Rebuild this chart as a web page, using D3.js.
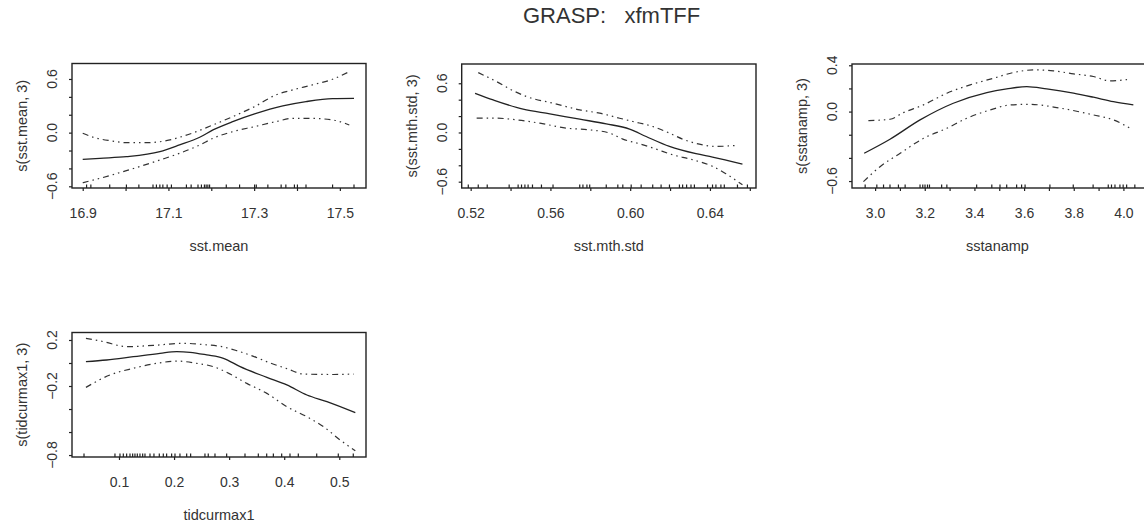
<!DOCTYPE html>
<html>
<head>
<meta charset="utf-8">
<script src="https://cdn.jsdelivr.net/npm/d3@7"></script>
<style>
  html, body { margin: 0; padding: 0; background: #ffffff; }
  svg { display: block; }
  text { font-family: "Liberation Sans", Arial, sans-serif; fill: #333; }
</style>
</head>
<body>
<svg id="chart" width="1144" height="529"></svg>
<script>
// ---------------- DATA ----------------
const mainTitle = "GRASP:   xfmTFF";

// Panel 1: sst.mean
const sstMeanXTitle = "sst.mean";
const sstMeanYTitle = "s(sst.mean, 3)";
const sstMeanXDomain = [16.875, 17.561];
const sstMeanYDomain = [-0.619, 0.773];
const sstMeanXTicks = [16.9, 17.0, 17.1, 17.2, 17.3, 17.4, 17.5];
const sstMeanXLabels = [16.9, 17.1, 17.3, 17.5];
const sstMeanYTicks = [-0.6, -0.4, -0.2, 0.0, 0.2, 0.4, 0.6];
const sstMeanYLabels = [-0.6, 0.0, 0.6];
const sstMeanFit = [[16.900,-0.299],[16.940,-0.287],[17.002,-0.269],[17.080,-0.213],[17.126,-0.138],[17.173,-0.052],[17.204,0.030],[17.250,0.123],[17.301,0.209],[17.367,0.299],[17.421,0.347],[17.483,0.381],[17.533,0.384]];
const sstMeanUpper = [[16.900,-0.007],[16.925,-0.052],[16.964,-0.090],[17.002,-0.112],[17.049,-0.112],[17.095,-0.090],[17.126,-0.052],[17.165,0.011],[17.204,0.086],[17.250,0.179],[17.301,0.291],[17.351,0.422],[17.390,0.478],[17.436,0.534],[17.483,0.597],[17.518,0.672]];
const sstMeanLower = [[16.900,-0.560],[16.940,-0.511],[17.002,-0.425],[17.080,-0.306],[17.126,-0.231],[17.173,-0.138],[17.204,-0.063],[17.250,0.011],[17.301,0.067],[17.351,0.123],[17.390,0.160],[17.429,0.160],[17.483,0.142],[17.522,0.086]];
const sstMeanRug = [16.909,16.919,16.963,17.002,17.031,17.064,17.072,17.080,17.087,17.097,17.107,17.142,17.153,17.169,17.177,17.184,17.188,17.192,17.196,17.235,17.266,17.301,17.305,17.332,17.363,17.374,17.394,17.401,17.421,17.483,17.533];

// Panel 2: sst.mth.std
const sstStdXTitle = "sst.mth.std";
const sstStdYTitle = "s(sst.mth.std, 3)";
const sstStdXDomain = [0.5155, 0.6631];
const sstStdYDomain = [-0.677, 0.835];
const sstStdXTicks = [0.52, 0.54, 0.56, 0.58, 0.60, 0.62, 0.64, 0.66];
const sstStdXLabels = [0.52, 0.56, 0.60, 0.64];
const sstStdYTicks = [-0.6, -0.4, -0.2, 0.0, 0.2, 0.4, 0.6];
const sstStdYLabels = [-0.6, 0.0, 0.6];
const sstStdFit = [[0.5222,0.478],[0.5313,0.397],[0.5463,0.284],[0.5597,0.227],[0.5747,0.162],[0.5880,0.105],[0.5997,0.041],[0.6080,-0.049],[0.6197,-0.170],[0.6330,-0.259],[0.6413,-0.300],[0.6563,-0.385]];
const sstStdUpper = [[0.5238,0.730],[0.5330,0.620],[0.5405,0.519],[0.5480,0.438],[0.5613,0.357],[0.5747,0.276],[0.5847,0.235],[0.5947,0.174],[0.6013,0.134],[0.6113,0.073],[0.6197,-0.008],[0.6263,-0.081],[0.6347,-0.142],[0.6430,-0.170],[0.6530,-0.158]];
const sstStdLower = [[0.5230,0.174],[0.5330,0.174],[0.5430,0.154],[0.5547,0.113],[0.5680,0.053],[0.5797,0.032],[0.5897,-0.008],[0.5963,-0.081],[0.6047,-0.138],[0.6130,-0.203],[0.6213,-0.272],[0.6313,-0.332],[0.6413,-0.413],[0.6480,-0.502],[0.6538,-0.596],[0.6563,-0.636]];
const sstStdRug = [0.5188,0.5238,0.5283,0.5393,0.5438,0.5455,0.5472,0.5488,0.5510,0.5555,0.5613,0.5747,0.5763,0.5783,0.5797,0.5880,0.5938,0.5963,0.6005,0.6055,0.6113,0.6155,0.6197,0.6247,0.6263,0.6283,0.6305,0.6322,0.6388,0.6413,0.6430,0.6455,0.6472,0.6538,0.6588];

// Panel 3: sstanamp
const sstAmpXTitle = "sstanamp";
const sstAmpYTitle = "s(sstanamp, 3)";
const sstAmpXDomain = [2.907, 4.095];
const sstAmpYDomain = [-0.660, 0.411];
const sstAmpXTicks = [3.0, 3.1, 3.2, 3.3, 3.4, 3.5, 3.6, 3.7, 3.8, 3.9, 4.0];
const sstAmpXLabels = [3.0, 3.2, 3.4, 3.6, 3.8, 4.0];
const sstAmpYTicks = [-0.6, -0.4, -0.2, 0.0, 0.2, 0.4];
const sstAmpYLabels = [-0.6, 0.0, 0.4];
const sstAmpFit = [[2.956,-0.360],[3.060,-0.239],[3.181,-0.072],[3.315,0.072],[3.450,0.164],[3.530,0.196],[3.611,0.216],[3.691,0.196],[3.799,0.159],[3.879,0.124],[3.960,0.086],[4.040,0.058]];
const sstAmpUpper = [[2.973,-0.078],[3.060,-0.066],[3.114,-0.009],[3.195,0.058],[3.289,0.159],[3.383,0.231],[3.477,0.288],[3.557,0.337],[3.638,0.360],[3.718,0.352],[3.799,0.326],[3.879,0.303],[3.946,0.265],[4.027,0.280]];
const sstAmpLower = [[2.953,-0.605],[3.020,-0.476],[3.101,-0.360],[3.195,-0.231],[3.289,-0.144],[3.369,-0.058],[3.463,0.014],[3.544,0.058],[3.617,0.063],[3.745,0.030],[3.879,-0.029],[3.960,-0.072],[4.034,-0.153]];
const sstAmpRug = [2.960,3.007,3.034,3.060,3.094,3.121,3.181,3.192,3.201,3.211,3.219,3.268,3.289,3.409,3.470,3.503,3.530,3.570,3.590,3.604,3.704,3.798,3.878,3.939,3.952,3.966,3.986,3.999,4.013,4.046];

// Panel 4: tidcurmax1
const tidXTitle = "tidcurmax1";
const tidYTitle = "s(tidcurmax1, 3)";
const tidXDomain = [0.0147, 0.5485];
const tidYDomain = [-0.817, 0.265];
const tidXTicks = [0.1, 0.2, 0.3, 0.4, 0.5];
const tidXLabels = [0.1, 0.2, 0.3, 0.4, 0.5];
const tidYTicks = [-0.8, -0.6, -0.4, -0.2, 0.0, 0.2];
const tidYLabels = [-0.8, -0.2, 0.2];
const tidFit = [[0.0400,0.012],[0.0776,0.026],[0.1261,0.055],[0.1745,0.084],[0.2048,0.099],[0.2291,0.093],[0.2594,0.070],[0.2897,0.041],[0.3200,-0.032],[0.3685,-0.125],[0.4048,-0.191],[0.4412,-0.278],[0.4776,-0.336],[0.5291,-0.432]];
const tidUpper = [[0.0400,0.214],[0.0715,0.186],[0.1139,0.142],[0.1624,0.153],[0.2170,0.171],[0.2533,0.160],[0.2867,0.142],[0.3139,0.107],[0.3442,0.058],[0.3745,0.000],[0.4048,-0.049],[0.4352,-0.096],[0.4897,-0.100],[0.5261,-0.096]];
const tidLower = [[0.0400,-0.212],[0.0836,-0.104],[0.1261,-0.046],[0.1685,-0.003],[0.2048,0.017],[0.2412,-0.003],[0.2715,-0.032],[0.3018,-0.096],[0.3321,-0.177],[0.3685,-0.264],[0.4048,-0.380],[0.4412,-0.467],[0.4715,-0.554],[0.5018,-0.670],[0.5291,-0.763]];
const tidRug = [0.0365,0.0927,0.1018,0.1079,0.1139,0.1200,0.1248,0.1290,0.1333,0.1381,0.1430,0.1472,0.1563,0.1635,0.1732,0.1805,0.1865,0.1956,0.2017,0.2107,0.2229,0.2301,0.2561,0.2621,0.2743,0.2955,0.3288,0.3530,0.3682,0.3803,0.3954,0.4105,0.4256,0.4590,0.4982,0.5254];

// ---------------- LAYOUT ----------------
const panels = [
  { box: [72, 63.5, 366, 188], xDomain: sstMeanXDomain, yDomain: sstMeanYDomain, xTicks: sstMeanXTicks, xLabels: sstMeanXLabels, yTicks: sstMeanYTicks, yLabels: sstMeanYLabels, fit: sstMeanFit, upper: sstMeanUpper, lower: sstMeanLower, rug: sstMeanRug, xTitle: sstMeanXTitle, yTitle: sstMeanYTitle, xfmt: d3.format(".1f") },
  { box: [461.7, 64, 756, 188], xDomain: sstStdXDomain, yDomain: sstStdYDomain, xTicks: sstStdXTicks, xLabels: sstStdXLabels, yTicks: sstStdYTicks, yLabels: sstStdYLabels, fit: sstStdFit, upper: sstStdUpper, lower: sstStdLower, rug: sstStdRug, xTitle: sstStdXTitle, yTitle: sstStdYTitle, xfmt: d3.format(".2f") },
  { box: [852, 64, 1147, 188], xDomain: sstAmpXDomain, yDomain: sstAmpYDomain, xTicks: sstAmpXTicks, xLabels: sstAmpXLabels, yTicks: sstAmpYTicks, yLabels: sstAmpYLabels, fit: sstAmpFit, upper: sstAmpUpper, lower: sstAmpLower, rug: sstAmpRug, xTitle: sstAmpXTitle, yTitle: sstAmpYTitle, xfmt: d3.format(".1f") },
  { box: [72, 332.5, 366, 457], xDomain: tidXDomain, yDomain: tidYDomain, xTicks: tidXTicks, xLabels: tidXLabels, yTicks: tidYTicks, yLabels: tidYLabels, fit: tidFit, upper: tidUpper, lower: tidLower, rug: tidRug, xTitle: tidXTitle, yTitle: tidYTitle, xfmt: d3.format(".1f") }
];

const svg = d3.select("#chart");
svg.append("rect").attr("width", 1144).attr("height", 529).attr("fill", "#ffffff");

svg.append("text")
  .attr("x", 523).attr("y", 23)
  .attr("font-size", "22px")
  .attr("fill", "#3a3a3a")
  .style("white-space", "pre")
  .attr("xml:space", "preserve")
  .text(mainTitle);

const yfmt = d => (d === 0 ? "0.0" : d3.format(".1f")(d));
const near = (arr, v) => arr.some(a => Math.abs(a - v) < 1e-9);

panels.forEach(p => {
  const [L, T, R, B] = p.box;
  const x = d3.scaleLinear().domain(p.xDomain).range([L, R]);
  const y = d3.scaleLinear().domain(p.yDomain).range([B, T]);
  const g = svg.append("g");

  // x axis ticks
  const xAxis = d3.axisBottom(x).tickValues(p.xTicks).tickSize(3).tickSizeOuter(0).tickPadding(17)
    .tickFormat(d => near(p.xLabels, d) ? p.xfmt(d) : "");
  const gx = g.append("g").attr("transform", `translate(0,${B})`).call(xAxis);
  gx.select(".domain").remove();
  gx.selectAll("line").attr("stroke", "#222").attr("stroke-width", 1.2);
  gx.selectAll("text").attr("font-size", "14px").attr("fill", "#3a3a3a")
    .style("font-family", "'Liberation Sans', Arial, sans-serif");

  // y axis ticks
  const yAxis = d3.axisLeft(y).tickValues(p.yTicks).tickSize(3).tickSizeOuter(0).tickFormat("");
  const gy = g.append("g").attr("transform", `translate(${L},0)`).call(yAxis);
  gy.select(".domain").remove();
  gy.selectAll("line").attr("stroke", "#222").attr("stroke-width", 1.2);

  // y tick labels (rotated, parallel to axis)
  g.selectAll(".ylab").data(p.yLabels).enter().append("text")
    .attr("transform", d => `translate(${L - 15},${y(d)}) rotate(-90)`)
    .attr("text-anchor", "middle")
    .attr("font-size", "14px").attr("fill", "#3a3a3a")
    .text(yfmt);

  // titles
  g.append("text")
    .attr("x", (L + R) / 2 + (R > 1144 ? -2 : 0)).attr("y", B + 63)
    .attr("text-anchor", "middle").attr("font-size", "14.5px").attr("fill", "#3a3a3a")
    .text(p.xTitle);
  g.append("text")
    .attr("transform", `translate(${L - 45},${(T + B) / 2}) rotate(-90)`)
    .attr("text-anchor", "middle").attr("font-size", "14.5px").attr("fill", "#3a3a3a")
    .text(p.yTitle);

  // rug
  g.selectAll(".rug").data(p.rug).enter().append("line")
    .attr("x1", d => x(d)).attr("x2", d => x(d))
    .attr("y1", B).attr("y2", B - 3.5)
    .attr("stroke", "#222").attr("stroke-width", 1.2);

  // curves
  const line = d3.line().x(d => x(d[0])).y(d => y(d[1])).curve(d3.curveMonotoneX);
  g.append("path").attr("d", line(p.fit)).attr("fill", "none")
    .attr("stroke", "#222").attr("stroke-width", 1.3);
  [p.upper, p.lower].forEach(band => {
    g.append("path").attr("d", line(band)).attr("fill", "none")
      .attr("stroke", "#333").attr("stroke-width", 1.2)
      .attr("stroke-dasharray", "6,4,1.5,4,1.5,4");
  });

  // box
  g.append("rect").attr("x", L).attr("y", T).attr("width", R - L).attr("height", B - T)
    .attr("fill", "none").attr("stroke", "#222").attr("stroke-width", 1.4);
});
</script>
</body>
</html>
